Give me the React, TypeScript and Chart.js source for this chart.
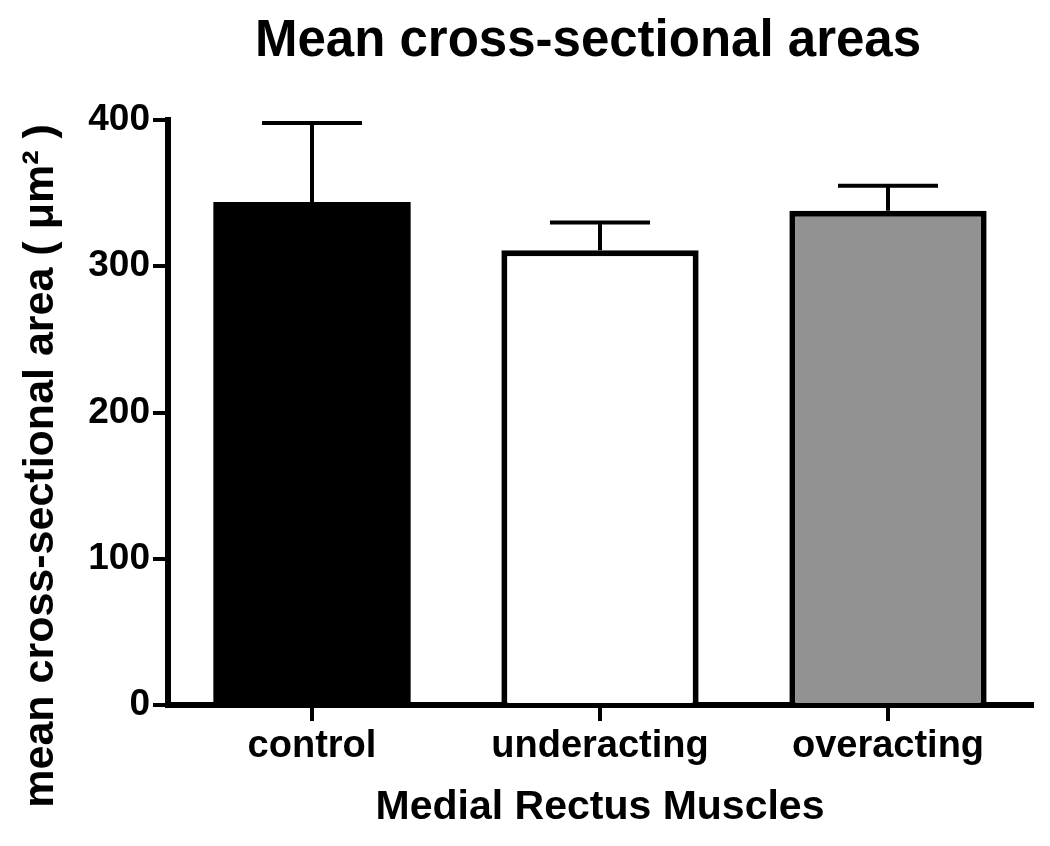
import React, { useEffect, useRef } from "react";
import { Chart, registerables } from "chart.js";

Chart.register(...registerables);

const categories = ["control", "underacting", "overacting"];
const means = [344, 311, 338];
const errors = [54, 19, 17];
const barColors = ["#000000", "#ffffff", "#929292"];
const barBorders = [0, 6, 6];
const yTicks = [0, 100, 200, 300, 400];

const chartTitle = "Mean cross-sectional areas";
const yTitle = "mean cross-sectional area ( \u03bcm\u00b2 )";
const xTitle = "Medial Rectus Muscles";

const FONT = "'Liberation Sans', Arial, Helvetica, sans-serif";

const errorBarPlugin = {
  id: "errorBars",
  afterDatasetsDraw(chart: any) {
    const ctx = chart.ctx;
    const meta = chart.getDatasetMeta(0);
    const yScale = chart.scales.y;
    ctx.save();
    ctx.strokeStyle = "#000";
    ctx.lineWidth = 4;
    ctx.lineCap = "butt";
    meta.data.forEach((bar: any, i: number) => {
      const x = bar.x;
      const yTop = yScale.getPixelForValue(means[i] + errors[i]);
      const yBar = yScale.getPixelForValue(means[i]);
      ctx.beginPath();
      ctx.moveTo(x, yBar);
      ctx.lineTo(x, yTop);
      ctx.moveTo(x - 50, yTop);
      ctx.lineTo(x + 50, yTop);
      ctx.stroke();
    });
    ctx.restore();
  },
};

const titlesPlugin = {
  id: "customTitles",
  afterDraw(chart: any) {
    const ctx = chart.ctx;
    ctx.save();
    ctx.fillStyle = "#000";
    ctx.font = `bold 51px ${FONT}`;
    ctx.textAlign = "center";
    ctx.textBaseline = "alphabetic";
    ctx.fillText(chartTitle, 580, 48);

    ctx.translate(45, 458);
    ctx.rotate(-Math.PI / 2);
    ctx.font = `bold 43px ${FONT}`;
    ctx.fillText(yTitle, 0, 0);
    ctx.restore();
  },
};

export default function App() {
  const ref = useRef<HTMLCanvasElement | null>(null);

  useEffect(() => {
    if (!ref.current) return;
    Chart.defaults.font.family = FONT;
    const chart = new Chart(ref.current, {
      type: "bar",
      data: {
        labels: categories,
        datasets: [
          {
            data: means,
            backgroundColor: barColors,
            borderColor: "#000",
            borderWidth: barBorders,
            categoryPercentage: 1,
            barPercentage: 0.685,
          },
        ],
      },
      options: {
        animation: false,
        responsive: true,
        maintainAspectRatio: false,
        layout: { padding: { top: 112, right: 10, left: 0, bottom: 0 } },
        plugins: {
          legend: { display: false },
          tooltip: { enabled: false },
          title: { display: false },
        },
        scales: {
          x: {
            afterFit(scale: any) {
              scale.height = 133;
            },
            grid: {
              display: true,
              drawOnChartArea: false,
              drawTicks: true,
              offset: false,
              tickLength: 16,
              color: "#000",
              lineWidth: 4,
            },
            border: { display: true, width: 6, color: "#000" },
            ticks: {
              color: "#000",
              padding: 3,
              font: { size: 38, weight: "bold" },
            },
            title: {
              display: true,
              text: xTitle,
              color: "#000",
              padding: { top: 6, bottom: 6 },
              font: { size: 41, weight: "bold" },
            },
          },
          y: {
            min: 0,
            max: 400,
            afterFit(scale: any) {
              scale.width = 160;
            },
            afterBuildTicks(scale: any) {
              scale.ticks = yTicks.map((v) => ({ value: v }));
            },
            grid: {
              display: true,
              drawOnChartArea: false,
              drawTicks: true,
              tickLength: 15,
              color: "#000",
              lineWidth: 4,
            },
            border: { display: true, width: 6, color: "#000" },
            ticks: {
              color: "#000",
              padding: 3,
              font: { size: 37, weight: "bold" },
            },
          },
        },
      },
      plugins: [errorBarPlugin, titlesPlugin],
    });
    return () => chart.destroy();
  }, []);

  return (
    <div style={{ position: "relative", width: 1034, height: 830 }}>
      <canvas ref={ref} />
    </div>
  );
}
